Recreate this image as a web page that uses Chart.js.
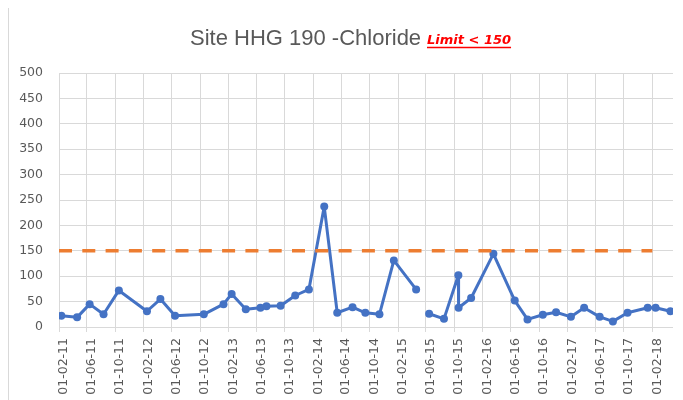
<!DOCTYPE html>
<html>
<head>
<meta charset="utf-8">
<script src="https://cdn.jsdelivr.net/npm/chart.js@4.4.0/dist/chart.umd.min.js"></script>
<style>
  html, body { margin: 0; padding: 0; background: #fff; }
  #wrap { width: 683px; height: 400px; position: relative; }
</style>
</head>
<body>
<div id="wrap"><canvas id="chart" width="683" height="400"></canvas></div>
<script>
// sample dates (yyyy-mm-dd) and chloride results, null = no sample so the line breaks
const sampleDates = [
  '2011-02-11', '2011-04-20', '2011-06-13', '2011-08-12', '2011-10-17',
  '2012-02-15', '2012-04-13', '2012-06-15', '2012-10-17',
  '2013-01-10', '2013-02-14', '2013-04-16', '2013-06-18', '2013-07-14', '2013-09-13', '2013-11-15',
  '2014-01-13', '2014-03-20', '2014-05-15', '2014-07-20', '2014-09-13', '2014-11-13',
  '2015-01-14', '2015-04-20', '2015-05-20', '2015-06-15', '2015-08-18', '2015-10-19', '2015-10-20', '2015-12-13',
  '2016-03-18', '2016-06-18', '2016-08-12', '2016-10-17', '2016-12-13',
  '2017-02-15', '2017-04-13', '2017-06-19', '2017-08-15', '2017-10-17',
  '2018-01-12', '2018-02-15', '2018-04-20'
];
const chloride = [
  22, 19, 45, 25, 72,
  31, 55, 22, 25,
  45, 65, 35, 38, 41, 42, 62,
  74, 237, 28, 39, 28, 25,
  131, 74, null, 26, 16, 102, 38, 57,
  144, 52, 15, 24, 29,
  20, 38, 20, 11, 28,
  38, 38, 31
];

// limit line
const limitDates = ['2011-02-01', '2018-02-01'];
const limitValues = [150, 150];

// x axis tick labels (dd-mm-yy)
const tickLabels = [
  '01-02-11', '01-06-11', '01-10-11',
  '01-02-12', '01-06-12', '01-10-12',
  '01-02-13', '01-06-13', '01-10-13',
  '01-02-14', '01-06-14', '01-10-14',
  '01-02-15', '01-06-15', '01-10-15',
  '01-02-16', '01-06-16', '01-10-16',
  '01-02-17', '01-06-17', '01-10-17',
  '01-02-18'
];
const xMinDate = '2011-02-01';
const xMaxDate = '2018-05-01';

const titleText = 'Site HHG 190 -Chloride';
const limitText = 'Limit < 150';

function dayNum(iso) {
  const p = iso.split('-');
  return Date.UTC(+p[0], +p[1] - 1, +p[2]) / 86400000;
}
function tickDay(lbl) {
  const p = lbl.split('-');
  return Date.UTC(2000 + +p[2], +p[1] - 1, +p[0]) / 86400000;
}

const mainPoints = sampleDates.map((d, i) => ({ x: dayNum(d), y: chloride[i] }));
const limitPoints = limitDates.map((d, i) => ({ x: dayNum(d), y: limitValues[i] }));

// title with the red "limit" note next to it, plus the chart border line
const titlePlugin = {
  id: 'mixedTitle',
  afterDraw(chart) {
    const ctx = chart.ctx;
    ctx.save();
    ctx.strokeStyle = '#d9d9d9';
    ctx.lineWidth = 1;
    ctx.beginPath();
    ctx.moveTo(8.5, 8);
    ctx.lineTo(8.5, 400);
    ctx.stroke();

    ctx.textBaseline = 'alphabetic';
    ctx.textAlign = 'left';
    ctx.font = '22px "Liberation Sans"';
    ctx.fillStyle = '#595959';
    ctx.fillText(titleText, 190, 45);

    ctx.font = 'italic bold 13px "DejaVu Sans"';
    ctx.fillStyle = '#ff0000';
    const w = ctx.measureText(limitText).width;
    ctx.fillText(limitText, 427, 43.5);
    ctx.strokeStyle = '#ff0000';
    ctx.lineWidth = 1.5;
    ctx.beginPath();
    ctx.moveTo(427, 47.5);
    ctx.lineTo(427 + w, 47.5);
    ctx.stroke();
    ctx.restore();
  }
};

Chart.defaults.font.family = '"DejaVu Sans"';
Chart.defaults.font.size = 12.5;
Chart.defaults.color = '#595959';

new Chart(document.getElementById('chart'), {
  type: 'line',
  data: {
    datasets: [
      {
        label: 'Limit',
        data: limitPoints,
        borderColor: '#ED7D31',
        borderWidth: 3.5,
        borderDash: [13, 10.3],
        pointRadius: 0,
        fill: false
      },
      {
        label: 'Chloride',
        data: mainPoints,
        borderColor: '#4472C4',
        backgroundColor: '#4472C4',
        borderWidth: 3,
        borderJoinStyle: 'round',
        borderCapStyle: 'round',
        pointRadius: 4,
        pointBorderWidth: 0,
        pointBackgroundColor: '#4472C4',
        spanGaps: false,
        tension: 0,
        fill: false
      }
    ]
  },
  options: {
    responsive: false,
    animation: false,
    layout: { padding: { left: 0, right: 10, top: 73, bottom: 0 } },
    plugins: {
      legend: { display: false },
      title: { display: false },
      tooltip: { enabled: false }
    },
    scales: {
      x: {
        type: 'linear',
        min: dayNum(xMinDate),
        max: dayNum(xMaxDate),
        afterBuildTicks: (axis) => {
          axis.ticks = tickLabels.map(l => ({ value: tickDay(l) }));
        },
        afterFit: (axis) => { axis.height = 73; },
        grid: { color: '#d9d9d9', lineWidth: 1, tickLength: 5 },
        border: { display: false },
        ticks: {
          autoSkip: false,
          minRotation: 90,
          maxRotation: 90,
          padding: 6,
          labelOffset: 5,
          callback: (v, i) => tickLabels[i]
        }
      },
      y: {
        min: 0,
        max: 500,
        afterFit: (axis) => { axis.width = 59; },
        grid: { color: '#d9d9d9', lineWidth: 1, drawTicks: false },
        border: { display: false },
        ticks: { stepSize: 50, padding: 16 }
      }
    }
  },
  plugins: [titlePlugin]
});
</script>
</body>
</html>
